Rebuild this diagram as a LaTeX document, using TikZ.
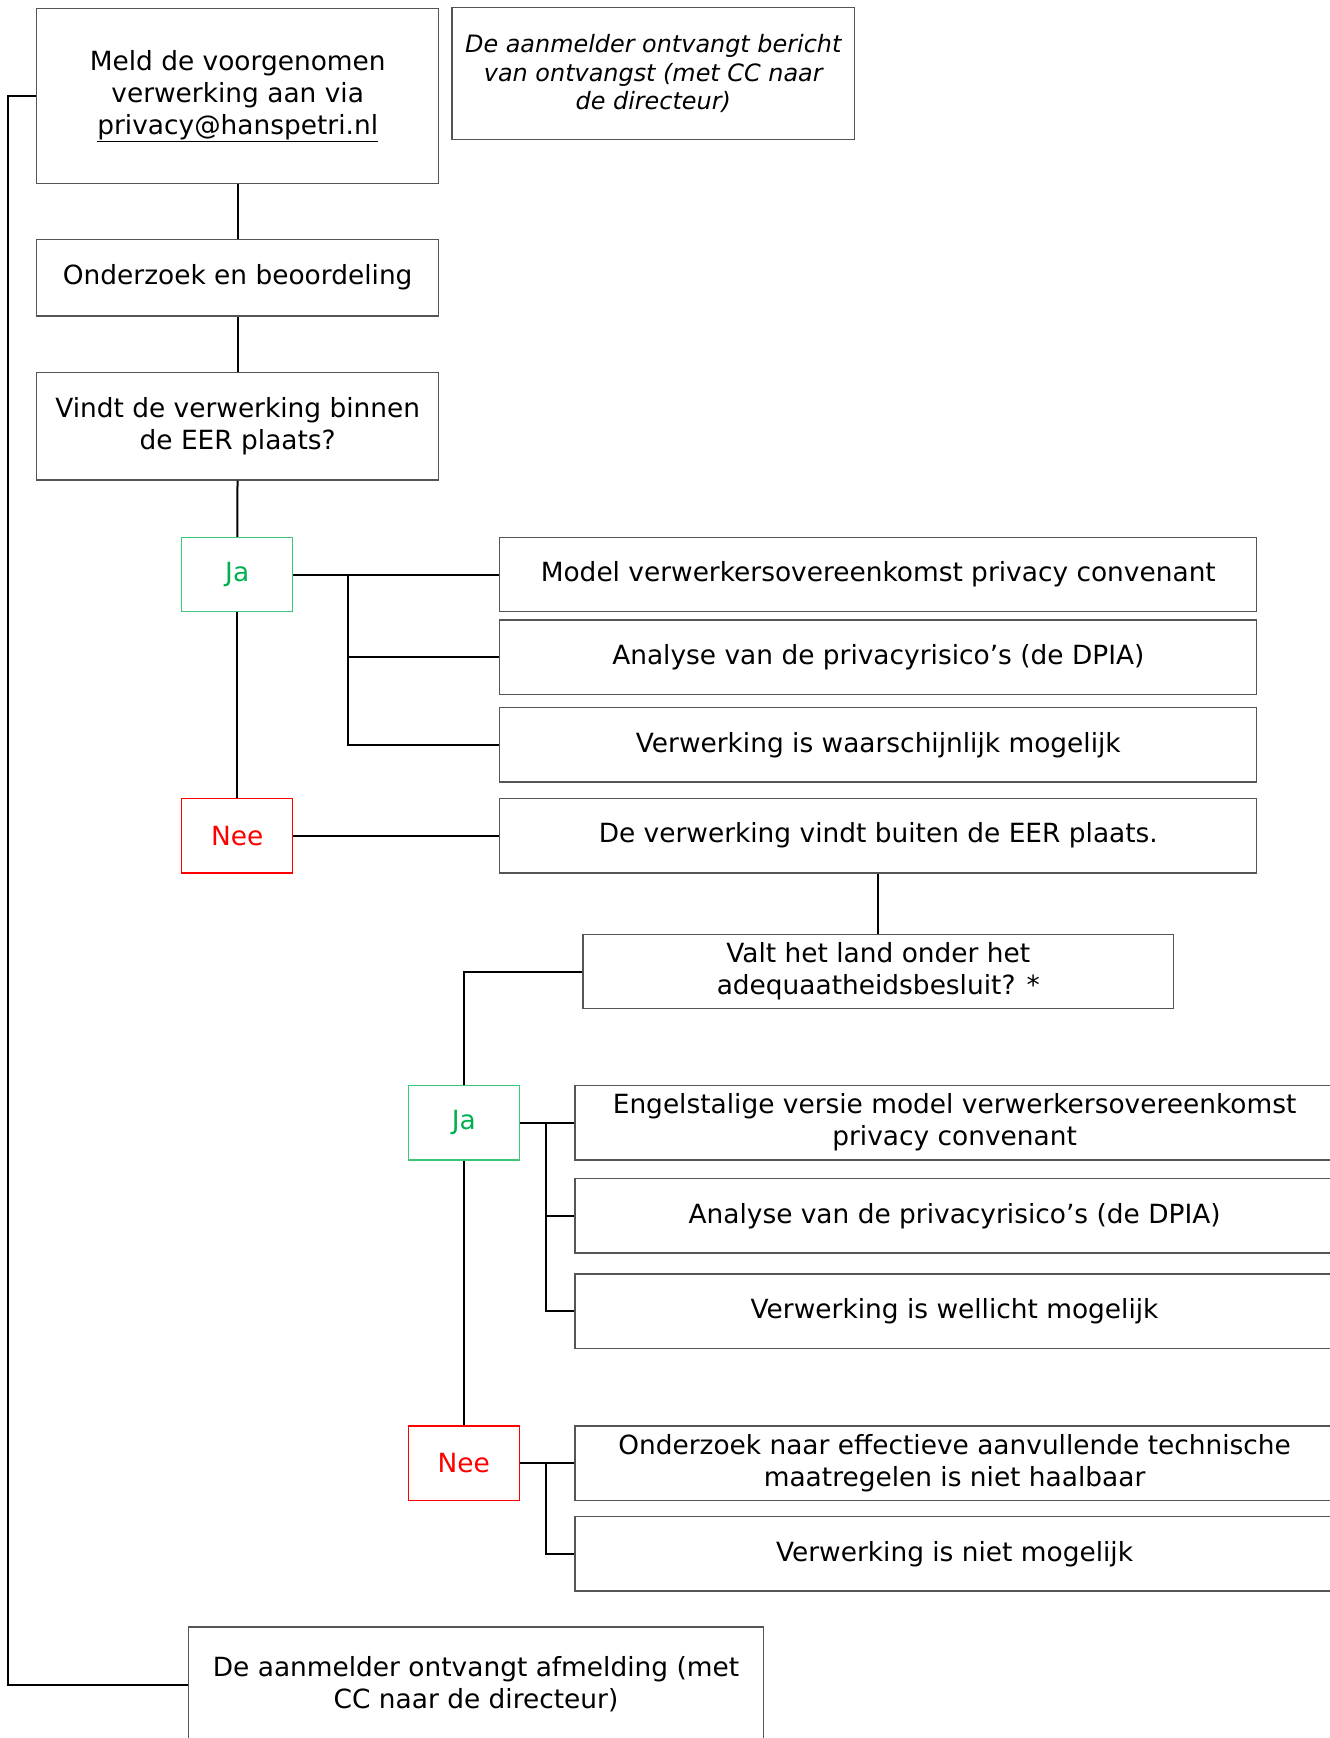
\documentclass[tikz,border=0pt]{standalone}
\usepackage{fontspec}
\setmainfont{DejaVu Sans}
\usepackage{tikz}
\usetikzlibrary{positioning,calc}
\definecolor{boxgray}{RGB}{85,85,85}
\definecolor{jagreen}{RGB}{0,176,80}
\definecolor{jaborder}{RGB}{60,200,120}
\definecolor{neered}{RGB}{255,0,0}

\begin{document}
\begin{tikzpicture}[x=1pt, y=-1pt,
    box/.style={draw=boxgray, line width=1.3pt, align=center, inner sep=0pt,
      font=\fontsize{26.4}{32}\selectfont},
    jabox/.style={box, draw=jaborder, text=jagreen, minimum width=110.8pt, minimum height=74.3pt},
    neebox/.style={box, draw=neered, text=neered, minimum width=110.8pt, minimum height=74.3pt},
    wide/.style={box, minimum width=757pt, minimum height=74.3pt},
    wider/.style={box, minimum width=759pt, minimum height=74.3pt},
    link/.style={draw=black, line width=2pt}]
    \useasboundingbox (0,0) rectangle (1330,1738);

    % bovenste blok
    \node[box, minimum width=402pt, minimum height=175pt] (meld) at (237.7,96.3)
      {Meld de voorgenomen\\verwerking aan via\\\underline{privacy@hanspetri.nl}};
    \node[box, minimum width=402.5pt, minimum height=131.8pt,
      font=\fontsize{23.9}{28.5}\selectfont\itshape] (bericht) at (653.3,73.7)
      {De aanmelder ontvangt bericht\\van ontvangst (met CC naar\\de directeur)};
    \node[box, minimum width=402pt, minimum height=76.5pt] (onderzoek) at (237.7,277.6)
      {Onderzoek en beoordeling};
    \node[box, minimum width=402pt, minimum height=107.5pt] (vindt) at (237.7,426.1)
      {Vindt de verwerking binnen\\de EER plaats?};

    % binnen de EER
    \node[jabox] (ja1) at (237.2,574.6) {Ja};
    \node[wide] (model) at (878.3,574.6) {Model verwerkersovereenkomst privacy convenant};
    \node[wide] (analyse1) at (878.3,657.2) {Analyse van de privacyrisico’s (de DPIA)};
    \node[wide] (waarsch) at (878.3,744.8) {Verwerking is waarschijnlijk mogelijk};
    \node[neebox] (nee1) at (237.2,835.7) {Nee};
    \node[wide] (buiten) at (878.3,835.7) {De verwerking vindt buiten de EER plaats.};

    % buiten de EER
    \node[box, minimum width=590.7pt, minimum height=74.3pt] (valt) at (878.3,971.5)
      {Valt het land onder het\\adequaatheidsbesluit? *};
    \node[jabox] (ja2) at (463.8,1122.7) {Ja};
    \node[wider] (engels) at (954.6,1122.7)
      {Engelstalige versie model verwerkersovereenkomst\\privacy convenant};
    \node[wider] (analyse2) at (954.6,1215.8) {Analyse van de privacyrisico’s (de DPIA)};
    \node[wider] (wellicht) at (954.6,1311.1) {Verwerking is wellicht mogelijk};
    \node[neebox] (nee2) at (463.8,1463) {Nee};
    \node[wider] (maatregel) at (954.6,1463)
      {Onderzoek naar effectieve aanvullende technische\\maatregelen is niet haalbaar};
    \node[wider] (nietmog) at (954.6,1553.9) {Verwerking is niet mogelijk};

    % afmelding
    \node[box, minimum width=575.2pt, minimum height=115pt] (afmelding) at (476,1684.5)
      {De aanmelder ontvangt afmelding (met\\CC naar de directeur)};

    % verbindingen
    \draw[link] (meld) -- (onderzoek);
    \draw[link] (onderzoek) -- (vindt);
    \draw[link] (vindt) -- (ja1);
    \draw[link] (ja1) -- (nee1);
    \draw[link] (ja1) -- (model);
    \draw[link] (348,574.6) |- (analyse1.west);
    \draw[link] (348,574.6) |- (waarsch.west);
    \draw[link] (nee1) -- (buiten);
    \draw[link] (buiten) -- (valt);
    \draw[link] (valt.west) -| (ja2.north);
    \draw[link] (ja2) -- (nee2);
    \draw[link] (ja2) -- (engels);
    \draw[link] (546.4,1122.7) |- (analyse2.west);
    \draw[link] (546.4,1122.7) |- (wellicht.west);
    \draw[link] (nee2) -- (maatregel);
    \draw[link] (546.4,1463) |- (nietmog.west);
    \draw[link] (meld.west) -| (7.8,1684.5) -- (afmelding.west);
\end{tikzpicture}
\end{document}
